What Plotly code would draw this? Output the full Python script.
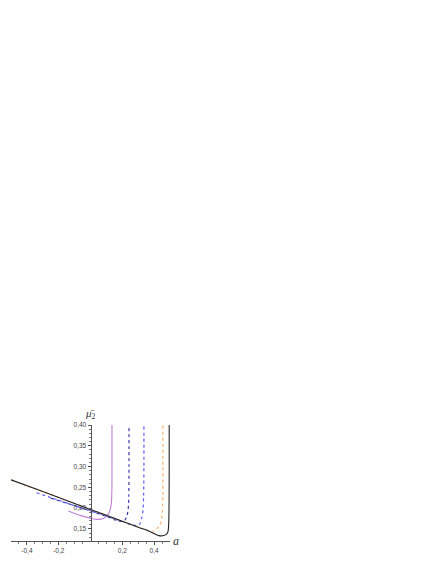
import plotly.graph_objects as go

black_a = [-0.5, -0.3, -0.1, 0.1, 0.3, 0.36, 0.40, 0.43, 0.46, 0.48, 0.488, 0.492, 0.494, 0.495, 0.495]
black_y = [0.268, 0.240, 0.211, 0.183, 0.154, 0.146, 0.139, 0.134, 0.134, 0.138, 0.145, 0.165, 0.21, 0.30, 0.40]

orange_a = [-0.5, -0.3, -0.1, 0.1, 0.3, 0.36, 0.385, 0.40, 0.416, 0.437, 0.448, 0.454, 0.455, 0.455]
orange_y = [0.268, 0.240, 0.211, 0.183, 0.154, 0.146, 0.142, 0.145, 0.150, 0.160, 0.176, 0.208, 0.30, 0.40]

blue_a = [-0.34, -0.2, -0.1, 0.0, 0.1, 0.2, 0.26, 0.29, 0.31, 0.322, 0.330, 0.334, 0.336, 0.336]
blue_y = [0.237, 0.219, 0.206, 0.194, 0.181, 0.168, 0.160, 0.158, 0.162, 0.176, 0.195, 0.23, 0.30, 0.40]

navy_a = [-0.25, -0.1, 0.0, 0.1, 0.16, 0.19, 0.215, 0.228, 0.237, 0.241, 0.242, 0.242]
navy_y = [0.224, 0.206, 0.193, 0.180, 0.171, 0.168, 0.171, 0.180, 0.198, 0.23, 0.30, 0.40]

magenta_a = [-0.14, -0.06, 0.0, 0.04, 0.08, 0.105, 0.12, 0.13, 0.134, 0.135, 0.135]
magenta_y = [0.193, 0.182, 0.176, 0.173, 0.175, 0.182, 0.192, 0.208, 0.235, 0.30, 0.40]

x_tickvals = [-0.4, -0.2, 0.2, 0.4]
x_ticktext = ["-0,4", "-0,2", "0,2", "0,4"]
y_tickvals = [0.15, 0.20, 0.25, 0.30, 0.35, 0.40]
y_ticktext = ["0,15", "0,20", "0,25", "0,30", "0,35", "0,40"]

fig = go.Figure()
fig.add_trace(go.Scatter(x=magenta_a, y=magenta_y, mode="lines",
                         line=dict(color="#c27fd4", width=1.1, shape="spline", smoothing=0.8)))
fig.add_trace(go.Scatter(x=navy_a, y=navy_y, mode="lines",
                         line=dict(color="#3a3aa8", width=1.2, dash="dot", shape="spline", smoothing=0.8)))
fig.add_trace(go.Scatter(x=blue_a, y=blue_y, mode="lines",
                         line=dict(color="#5a5aff", width=1.2, dash="dot", shape="spline", smoothing=0.8)))
fig.add_trace(go.Scatter(x=orange_a, y=orange_y, mode="lines",
                         line=dict(color="#ffb26a", width=1.2, dash="dot", shape="spline", smoothing=0.8)))
fig.add_trace(go.Scatter(x=black_a, y=black_y, mode="lines",
                         line=dict(color="#222222", width=1.1, shape="spline", smoothing=0.8)))

tickfont = dict(family="Liberation Sans, Arial, sans-serif", size=6.5, color="#444444")

# The page body adds an 8px margin, so the figure is sized to fit inside the window.
fig.update_layout(
    width=428, height=556,
    margin=dict(l=3, r=266, t=417, b=23, pad=0),
    paper_bgcolor="white", plot_bgcolor="white",
    showlegend=False,
    xaxis=dict(range=[-0.5, 0.5], showgrid=False, zeroline=False,
               showline=True, linecolor="#555555", linewidth=1,
               tickvals=x_tickvals, ticktext=x_ticktext,
               ticks="outside", ticklen=3, tickcolor="#555555",
               minor=dict(tickvals=[-0.45, -0.35, -0.3, -0.25, -0.15, -0.1, -0.05,
                                    0.05, 0.1, 0.15, 0.25, 0.3, 0.35, 0.45],
                          ticks="outside", ticklen=1.5, tickcolor="#777777"),
               tickfont=tickfont, automargin=False),
    yaxis=dict(range=[0.121, 0.40], showgrid=False, zeroline=False,
               anchor="free", position=0.5, side="left",
               showline=True, linecolor="#555555", linewidth=1,
               tickvals=y_tickvals, ticktext=y_ticktext,
               ticks="outside", ticklen=3, tickcolor="#555555",
               minor=dict(dtick=0.01, ticks="outside", ticklen=1.5, tickcolor="#777777"),
               tickfont=tickfont, automargin=False),
    annotations=[
        dict(x=0.5, y=1, xref="paper", yref="paper", yanchor="bottom", xanchor="center",
             yshift=2, showarrow=False,
             text="<i>μ\u0304</i><sub>2</sub>",
             font=dict(family="Liberation Serif, Times New Roman, serif", size=11, color="#333333")),
        dict(x=1.04, y=0, xref="paper", yref="paper", xanchor="center", yanchor="middle",
             showarrow=False, text="<i>a</i>",
             font=dict(family="Liberation Serif, Times New Roman, serif", size=12, color="#333333")),
    ],
)

fig.write_html("out.html")
